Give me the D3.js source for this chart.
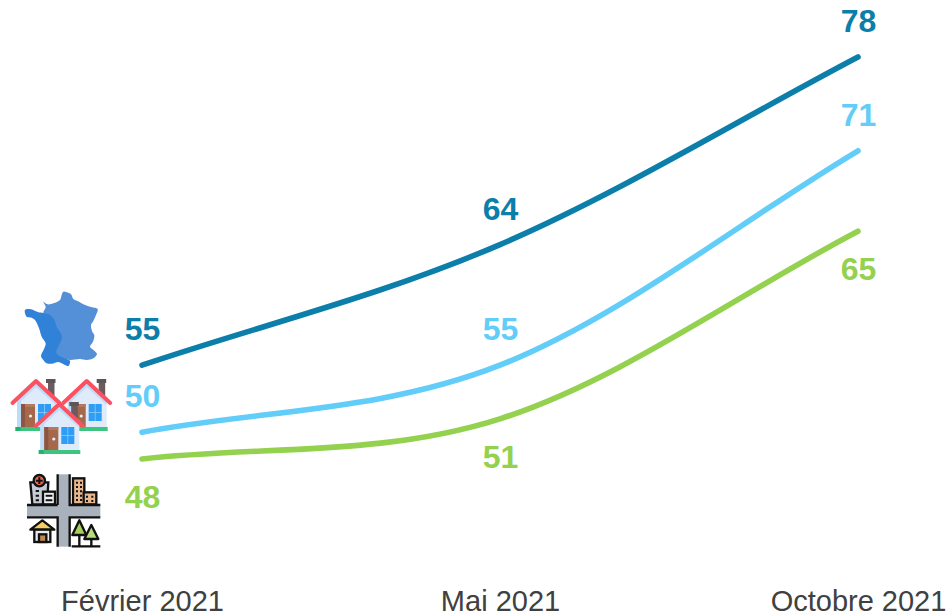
<!DOCTYPE html>
<html><head><meta charset="utf-8">
<script src="https://cdn.jsdelivr.net/npm/d3@7"></script>
<style>html,body{margin:0;padding:0;background:#fff;overflow:hidden}svg{display:block}text{font-family:"Liberation Sans",Arial,sans-serif}</style>
</head><body><svg id="c" width="947" height="615"></svg>
<script>
const categories = ["Février 2021", "Mai 2021", "Octobre 2021"];
const franceValues = [55, 64, 78];
const maisonValues = [50, 55, 71];
const villeValues = [48, 51, 65];

const svg = d3.select("#c");
const x = d3.scalePoint().domain(categories).range([142, 858]);
const y = d3.scaleLinear().domain([48, 78]).range([459, 57]);
const series = [
  {values: franceValues, color: "#0b7ea9", dy: -36},
  {values: maisonValues, color: "#62cdf8", dy: -36},
  {values: villeValues, color: "#93d14f", dy: 38}
];

// Spreadsheet-style smoothing: inner tangents like a cardinal spline, end tangents along the chord
function smoothCurve(ctx) {
  let pts;
  return {
    areaStart() {}, areaEnd() {},
    lineStart() { pts = []; },
    point(px, py) { pts.push([px, py]); },
    lineEnd() {
      const n = pts.length;
      ctx.moveTo(pts[0][0], pts[0][1]);
      for (let i = 0; i < n - 1; i++) {
        const p1 = pts[i], p2 = pts[i + 1];
        const t1 = i === 0 ? [(p2[0] - p1[0]) / 3, (p2[1] - p1[1]) / 3]
                           : [(p2[0] - pts[i - 1][0]) / 6, (p2[1] - pts[i - 1][1]) / 6];
        const t2 = i === n - 2 ? [(p2[0] - p1[0]) / 3, (p2[1] - p1[1]) / 3]
                               : [(pts[i + 2][0] - p1[0]) / 6, (pts[i + 2][1] - p1[1]) / 6];
        ctx.bezierCurveTo(p1[0] + t1[0], p1[1] + t1[1], p2[0] - t2[0], p2[1] - t2[1], p2[0], p2[1]);
      }
    }
  };
}
const line = d3.line().x((d, i) => x(categories[i])).y(d => y(d)).curve(smoothCurve);

series.forEach(s => {
  svg.append("path").attr("d", line(s.values)).attr("fill", "none")
    .attr("stroke", s.color).attr("stroke-width", 5.6).attr("stroke-linecap", "round");
  svg.selectAll(null).data(s.values).enter().append("text")
    .attr("x", (d, i) => x(categories[i]) + 0.5).attr("y", d => y(d) + s.dy)
    .attr("text-anchor", "middle").attr("dominant-baseline", "central")
    .attr("font-size", 32).attr("font-weight", "bold").attr("fill", s.color).text(d => d);
});

const axis = d3.axisBottom(x).tickSize(0).tickPadding(0);
const gA = svg.append("g").attr("transform", "translate(0,590.4)").call(axis);
gA.select(".domain").remove();
gA.selectAll("text").attr("font-size", 29).attr("fill", "#404040").attr("font-family", '"Liberation Sans",Arial,sans-serif');

// --- icons (decorative) ---
const blob = d3.line().curve(d3.curveCatmullRomClosed.alpha(0.5));
const fr = svg.append("g").attr("transform", "translate(15,285) scale(.3333)");
fr.append("path").attr("fill", "#5490d8").attr("d", blob([
 [145,20],[155,22],[168,28],[175,42],[192,50],[205,58],[225,65],[248,72],[243,90],[235,108],[228,120],[232,140],[238,150],[234,170],[225,185],[238,197],[246,207],[235,220],[215,225],[195,222],[165,225],[150,222],[125,215],[105,200],[120,155],[105,125],[95,95],[85,83],[92,66],[85,50],[98,58],[115,55],[135,45],[140,30]]));
fr.append("path").attr("fill", "#2f82d8").attr("d", blob([
 [30,75],[48,73],[70,82],[85,84],[105,90],[118,105],[125,125],[141,155],[124,203],[140,216],[165,228],[160,243],[150,240],[130,231],[112,236],[95,235],[85,225],[78,213],[88,190],[92,175],[80,155],[72,130],[60,105],[50,98],[35,95]]));

function house(g) {
  g.append("rect").attr("x",12).attr("y",1).attr("width",6.5).attr("height",16).attr("fill","#6b5b5e");
  g.append("rect").attr("x",10).attr("y",-1).attr("width",9.5).attr("height",4).attr("fill","#5f5558");
  g.append("path").attr("fill","#dfeafa").attr("d","M-19 20 L0 2 L20 20 L20 47 L-19 47 Z");
  g.append("path").attr("fill","#bcdcfa").attr("d","M-19 20 L0 2 L20 20 L20 25 L0 7 L-15 21 L-15 47 L-19 47 Z");
  g.append("rect").attr("x",-15).attr("y",24).attr("width",14).attr("height",23).attr("fill","#a5684c");
  g.append("rect").attr("x",-15).attr("y",24).attr("width",14).attr("height",3).attr("fill","#b47a60");
  g.append("rect").attr("x",-15).attr("y",24).attr("width",4).attr("height",23).attr("fill","#8e5640");
  g.append("circle").attr("cx",-5.5).attr("cy",36).attr("r",1.6).attr("fill","#eee");
  g.append("rect").attr("x",2).attr("y",24).attr("width",13).attr("height",17).attr("fill","#2d9df5");
  g.append("path").attr("stroke","#8fcbfa").attr("fill","none").attr("stroke-width",.8).attr("d","M8.5 24 V41 M2 32.5 H15");
  g.append("rect").attr("x",-20.5).attr("y",47).attr("width",41.5).attr("height",4).attr("fill","#3fc47f");
  g.append("rect").attr("x",-20.5).attr("y",47).attr("width",5).attr("height",4).attr("fill","#22b36a");
  g.append("path").attr("fill","none").attr("stroke","#fb5160").attr("stroke-width",4).attr("stroke-linecap","round")
    .attr("stroke-linejoin","round").attr("d","M-23.5 23 L0 1 L23.5 23");
}
house(svg.append("g").attr("transform","translate(36,380)"));
house(svg.append("g").attr("transform","translate(86.7,380)"));
house(svg.append("g").attr("transform","translate(59.3,403)"));

const ci = svg.append("g").attr("transform","translate(15,465) scale(.3333)");
const K = "#111";
const r = (a,b,w,h,f,sw=7)=>ci.append("rect").attr("x",a).attr("y",b).attr("width",w).attr("height",h).attr("fill",f).attr("stroke",sw?K:"none").attr("stroke-width",sw);
r(130,28,32,217,"#a9b2bc",0);
r(36,122,220,34,"#a9b2bc",0);
ci.append("path").attr("fill","none").attr("stroke",K).attr("stroke-width",7)
 .attr("d","M128 120 H36 M128 28 V120 M164 28 V120 H256 M36 157 H128 V245 M256 157 H164 V245");
// hospital
ci.append("path").attr("fill","#c5ccd6").attr("stroke",K).attr("stroke-width",7).attr("d","M46 52 L100 52 L96 118 L52 118 Z");
r(84,80,36,38,"#eef0f3");
ci.append("circle").attr("cx",73).attr("cy",47).attr("r",17).attr("fill","#e56a56").attr("stroke",K).attr("stroke-width",7);
ci.append("path").attr("stroke",K).attr("stroke-width",6).attr("d","M73 37 V57 M63 47 H83");
ci.append("path").attr("stroke",K).attr("stroke-width",6).attr("d","M62 78 H72 M62 92 H72 M62 106 H72 M92 92 H112 M92 106 H112");
// buildings
r(174,40,34,78,"#e7b78d");
r(206,82,38,36,"#e7b78d");
ci.append("path").attr("stroke",K).attr("stroke-width",6).attr("stroke-dasharray","6 7").attr("d","M186 50 V112 M198 50 V112 M216 92 V112 M232 92 V112");
// house
ci.append("path").attr("fill","#f6cf63").attr("stroke",K).attr("stroke-width",7).attr("stroke-linejoin","round").attr("d","M46 194 L82 166 L118 194 Z");
r(58,194,48,37,"#e9ecef");
r(72,208,22,23,"#c08a4e");
// trees
ci.append("path").attr("fill","#a5d15a").attr("stroke",K).attr("stroke-width",7).attr("stroke-linejoin","round").attr("d","M193 166 L172 210 L214 210 Z");
ci.append("path").attr("fill","#b8dc78").attr("stroke",K).attr("stroke-width",7).attr("stroke-linejoin","round").attr("d","M229 180 L208 222 L250 222 Z");
ci.append("path").attr("stroke",K).attr("stroke-width",7).attr("d","M193 210 V242 M229 222 V242 M170 244 H256");
</script></body></html>
